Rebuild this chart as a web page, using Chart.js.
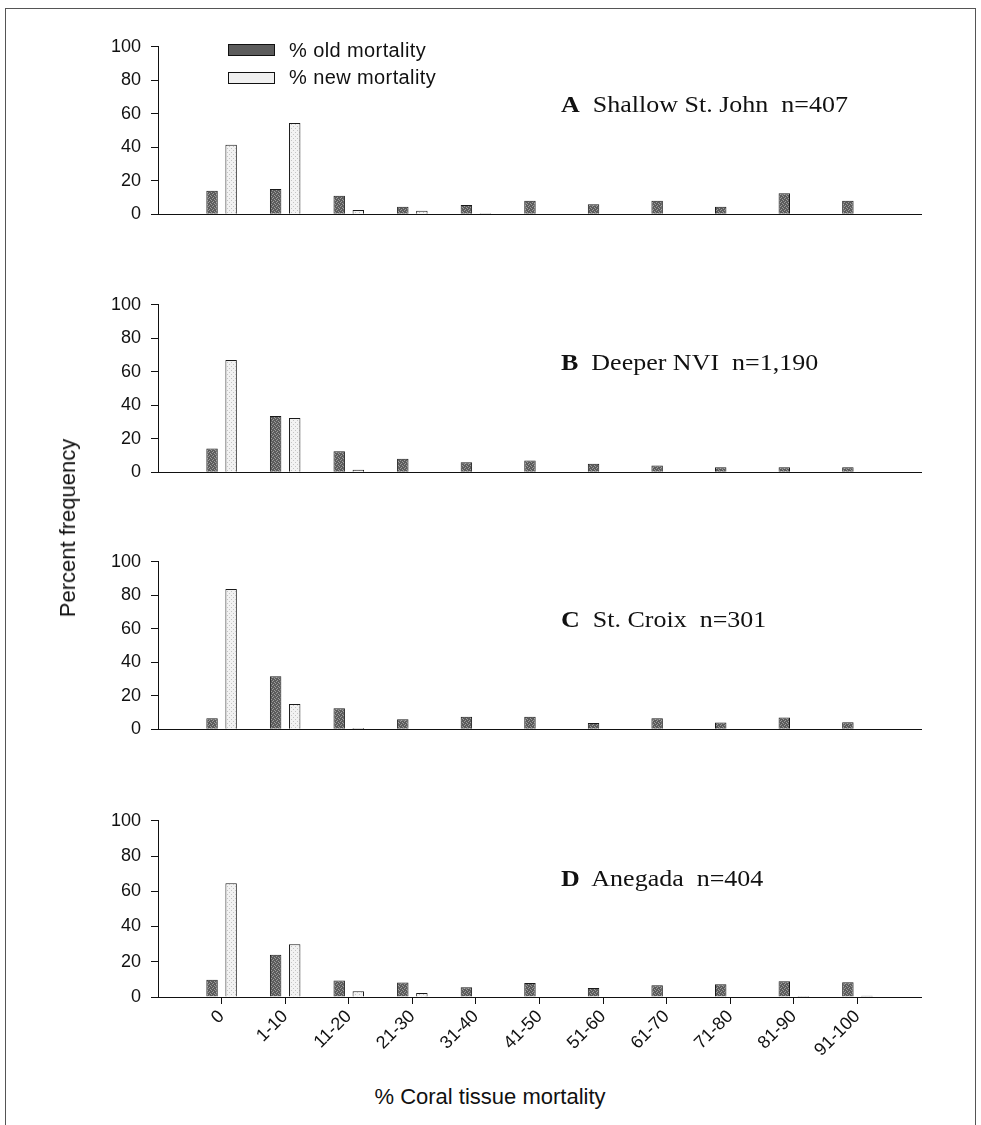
<!DOCTYPE html>
<html>
<head>
<meta charset="utf-8">
<title>Coral tissue mortality</title>
<script src="https://cdn.jsdelivr.net/npm/chart.js@4.4.0/dist/chart.umd.min.js"></script>
<style>
  html, body { margin: 0; padding: 0; background: #fff; }
  #page { position: relative; width: 981px; height: 1125px; overflow: hidden; font-family: "Liberation Sans", Arial, sans-serif; color: #111; }
  #frame { position: absolute; left: 5px; top: 8px; width: 969px; height: 1140px; border: 1px solid #555; border-bottom: none; }
  canvas { position: absolute; left: 0; }
  .title { position: absolute; left: 561px; font-family: "Liberation Serif", "Times New Roman", serif; font-size: 23px; line-height: 23px; white-space: pre; transform: scaleX(1.13); transform-origin: left center; }
  .title b { font-weight: bold; }
  .leg-box { position: absolute; left: 228px; width: 45px; height: 10px; border: 1px solid #111; }
  .leg-text { position: absolute; left: 289px; font-size: 20px; line-height: 20px; letter-spacing: 0.4px; white-space: pre; }
  #ytitle { position: absolute; left: 68px; top: 528px; font-size: 22px; white-space: pre; transform: translate(-50%, -50%) rotate(-90deg); }
  #xtitle { position: absolute; left: 490px; top: 1097px; font-size: 22px; white-space: pre; transform: translate(-50%, -50%); }
</style>
</head>
<body>
<div id="page">
  <div id="frame"></div>
  <canvas id="chartA" width="981" height="209" style="top:26px"></canvas>
  <canvas id="chartB" width="981" height="209" style="top:284px"></canvas>
  <canvas id="chartC" width="981" height="209" style="top:541px"></canvas>
  <canvas id="chartD" width="981" height="277" style="top:800px"></canvas>

  <div class="leg-box" id="legOld" style="top:44px"></div>
  <div class="leg-text" style="top:40px">% old mortality</div>
  <div class="leg-box" id="legNew" style="top:72px"></div>
  <div class="leg-text" style="top:67px">% new mortality</div>

  <div class="title" style="top:93px"><b>A</b>  Shallow St. John  n=407</div>
  <div class="title" style="top:351px"><b>B</b>  Deeper NVI  n=1,190</div>
  <div class="title" style="top:608px"><b>C</b>  St. Croix  n=301</div>
  <div class="title" style="top:867px"><b>D</b>  Anegada  n=404</div>

  <div id="ytitle">Percent frequency</div>
  <div id="xtitle">% Coral tissue mortality</div>
</div>
<script>
// mortality classes on the x axis
const categories = ['0', '1-10', '11-20', '21-30', '31-40', '41-50', '51-60', '61-70', '71-80', '81-90', '91-100'];
const yTicks = [0, 20, 40, 60, 80, 100];

// A  Shallow St. John
const oldA = [14, 15, 11, 4.5, 5.5, 8, 6, 8, 4.5, 12.5, 8];
const newA = [41.5, 54.5, 2.5, 2, 0.5, 0, 0, 0, 0.3, 0, 0];
// B  Deeper NVI
const oldB = [14.2, 33.5, 12.5, 8, 6, 7, 5, 4, 3, 3, 3];
const newB = [67, 32.4, 1.5, 0, 0, 0, 0, 0, 0, 0, 0];
// C  St. Croix
const oldC = [6.6, 31.7, 12.5, 6, 7.5, 7.5, 3.7, 6.6, 4, 7, 4.2];
const newC = [83.8, 15, 0.7, 0.3, 0, 0, 0, 0, 0, 0, 0];
// D  Anegada
const oldD = [9.8, 24, 9.3, 8.2, 5.5, 8, 5.1, 6.7, 7.3, 8.9, 8.4];
const newD = [64.5, 30, 3.3, 2.2, 0, 0.3, 0, 0, 0, 0.5, 0.7];

const FONT = '"Liberation Sans", Arial, sans-serif';

// small repeating dot texture, like the scanned stipple fill
function stipple(base, dotColor, dots) {
    const c = document.createElement('canvas');
    c.width = 4;
    c.height = 4;
    const g = c.getContext('2d');
    g.fillStyle = base;
    g.fillRect(0, 0, 4, 4);
    g.fillStyle = dotColor;
    dots.forEach(d => g.fillRect(d[0], d[1], 1, 1));
    return g.createPattern(c, 'repeat');
}

const oldFill = stipple('#5c5c5c', '#9c9c9c', [[0, 0], [2, 1], [1, 3], [3, 2]]);
const newFill = stipple('#f2f2f2', '#c4c4c4', [[1, 0], [3, 2]]);

document.getElementById('legOld').style.background = '#5c5c5c';
document.getElementById('legNew').style.background = '#f0f0f0';

function toPoints(vals) {
    return vals.map((v, i) => ({ x: i, y: v }));
}

function buildPanel(id, oldVals, newVals, isBottom) {
    const ctx = document.getElementById(id).getContext('2d');
    return new Chart(ctx, {
        type: 'bar',
        data: {
            datasets: [{
                label: '% old mortality',
                data: toPoints(oldVals),
                backgroundColor: oldFill,
                borderColor: '#1a1a1a',
                borderWidth: 1
            }, {
                label: '% new mortality',
                data: toPoints(newVals),
                backgroundColor: newFill,
                borderColor: '#1a1a1a',
                borderWidth: 1
            }]
        },
        options: {
            responsive: false,
            animation: false,
            categoryPercentage: 0.6,
            barPercentage: 0.6,
            layout: { padding: { top: 14, right: 60, bottom: 0, left: 0 } },
            plugins: {
                legend: { display: false },
                tooltip: { enabled: false }
            },
            scales: {
                x: {
                    type: 'linear',
                    min: -1,
                    max: 11,
                    offset: false,
                    afterBuildTicks: function(scale) {
                        scale.ticks = categories.map((c, i) => ({ value: i }));
                    },
                    afterFit: function(scale) {
                        scale.height = isBottom ? 80 : 12;
                    },
                    grid: {
                        display: isBottom,
                        offset: false,
                        drawOnChartArea: false,
                        drawTicks: isBottom,
                        tickLength: 7,
                        tickColor: '#111'
                    },
                    border: { display: true, color: '#111', width: 1 },
                    ticks: {
                        display: isBottom,
                        autoSkip: false,
                        minRotation: 45,
                        maxRotation: 45,
                        padding: 2,
                        color: '#111',
                        font: { family: FONT, size: 18 },
                        callback: function(value) {
                            return categories[value];
                        }
                    }
                },
                y: {
                    min: 0,
                    max: 100,
                    afterBuildTicks: function(scale) {
                        scale.ticks = yTicks.map(v => ({ value: v }));
                    },
                    afterFit: function(scale) {
                        scale.width = 158;
                    },
                    grid: {
                        drawOnChartArea: false,
                        drawTicks: true,
                        tickLength: 7,
                        tickColor: '#111'
                    },
                    border: { display: true, color: '#111', width: 1 },
                    ticks: {
                        padding: 10,
                        color: '#111',
                        font: { family: FONT, size: 18 }
                    }
                }
            }
        }
    });
}

buildPanel('chartA', oldA, newA, false);
buildPanel('chartB', oldB, newB, false);
buildPanel('chartC', oldC, newC, false);
buildPanel('chartD', oldD, newD, true);
</script>
</body>
</html>
